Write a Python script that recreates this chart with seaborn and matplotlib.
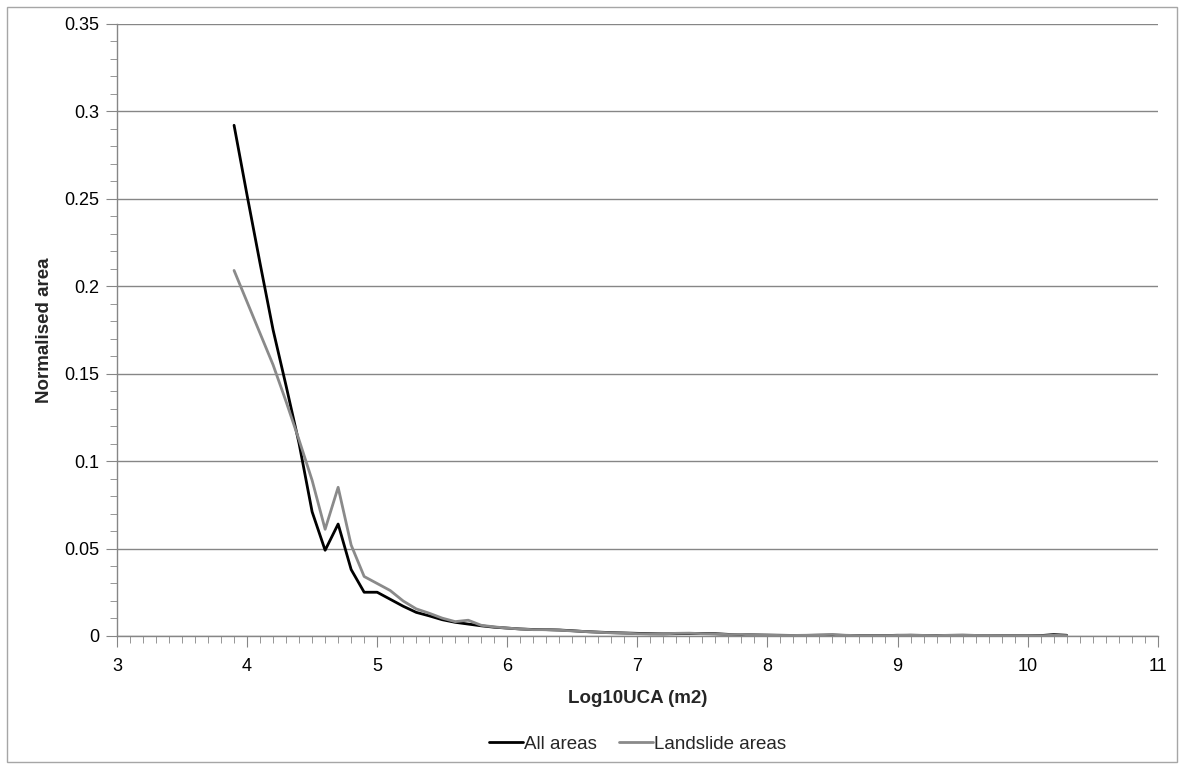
import seaborn as sns
import matplotlib.pyplot as plt
import pandas as pd
from matplotlib.ticker import MultipleLocator, FuncFormatter
from matplotlib.patches import Rectangle

# values
log_uca = [round(3.9 + 0.1 * i, 1) for i in range(65)]

all_areas = [0.292, 0.252, 0.213, 0.175, 0.143, 0.110, 0.071, 0.049, 0.064, 0.038,
             0.025, 0.025, 0.021, 0.017, 0.0135, 0.0115, 0.0093, 0.0078, 0.0068, 0.0058,
             0.0050, 0.0045, 0.0040, 0.0037, 0.0036, 0.0034, 0.0030, 0.0025, 0.0022, 0.0019,
             0.0017, 0.0015, 0.0013, 0.0012, 0.0013, 0.0014, 0.0014, 0.0013, 0.0009, 0.0007,
             0.0006, 0.0005, 0.0004, 0.0003, 0.0003, 0.0003, 0.0004, 0.0003, 0.0002, 0.0002,
             0.0002, 0.0004, 0.0003, 0.0002, 0.0002, 0.0002, 0.0003, 0.0002, 0.0001, 0.0001,
             0.0001, 0.0001, 0.0002, 0.0008, 0.0004]

landslide_areas = [0.209, 0.191, 0.173, 0.155, 0.134, 0.112, 0.089, 0.061, 0.085, 0.052,
                   0.034, 0.030, 0.026, 0.020, 0.0155, 0.013, 0.0102, 0.0082, 0.0090, 0.0061,
                   0.0052, 0.0045, 0.0040, 0.0036, 0.0036, 0.0033, 0.0029, 0.0025, 0.0021, 0.0018,
                   0.0016, 0.0013, 0.0011, 0.0012, 0.0015, 0.0016, 0.0013, 0.0011, 0.0008, 0.0009,
                   0.0005, 0.0004, 0.0003, 0.0003, 0.0004, 0.0007, 0.0009, 0.0004, 0.0002, 0.0002,
                   0.0002, 0.0003, 0.0006, 0.0003, 0.0002, 0.0004, 0.0006, 0.0003, 0.0002, 0.0001,
                   0.0001, 0.0001, 0.0001, 0.0004, 0.0002]

df = pd.concat([
    pd.DataFrame({'x': log_uca, 'y': all_areas, 'series': 'All areas'}),
    pd.DataFrame({'x': log_uca, 'y': landslide_areas, 'series': 'Landslide areas'}),
])

sns.set_style('white')
plt.rcParams['font.family'] = ['Liberation Sans', 'DejaVu Sans']

fig = plt.figure(figsize=(11.84, 7.69), dpi=100)
ax = fig.add_axes([0.0988, 0.173, 0.879, 0.796])

# outer chart border
fig.patches.append(Rectangle((0.006, 0.009), 0.988, 0.982, transform=fig.transFigure,
                             fill=False, edgecolor='#a6a6a6', linewidth=1))

sns.lineplot(data=df, x='x', y='y', hue='series',
             palette={'All areas': '#000000', 'Landslide areas': '#8a8a8a'},
             linewidth=2.0, ax=ax)

grid_col = '#868686'
ax.set_xlim(3, 11)
ax.set_ylim(0, 0.35)
ax.xaxis.set_major_locator(MultipleLocator(1))
ax.xaxis.set_minor_locator(MultipleLocator(0.1))
ax.yaxis.set_major_locator(MultipleLocator(0.05))
ax.yaxis.set_minor_locator(MultipleLocator(0.01))
ax.yaxis.set_major_formatter(FuncFormatter(lambda v, p: f'{v:.2f}'.rstrip('0').rstrip('.') if v else '0'))
ax.grid(axis='y', which='major', color=grid_col, linewidth=1)
ax.set_axisbelow(True)

for s in ['top', 'right']:
    ax.spines[s].set_visible(False)
for s in ['left', 'bottom']:
    ax.spines[s].set_color(grid_col)
    ax.spines[s].set_linewidth(1)

ax.tick_params(axis='both', which='major', direction='out', length=8, color=grid_col,
               labelsize=13, labelcolor='black', pad=5)
ax.tick_params(axis='x', which='major', pad=8)
ax.tick_params(axis='both', which='minor', direction='out', length=5, color=grid_col)
ax.tick_params(axis='x', which='both', bottom=True)
ax.tick_params(axis='y', which='both', left=True)

ax.set_xlabel('Log10UCA (m2)', fontsize=13.5, fontweight='bold', labelpad=11)
ax.set_ylabel('Normalised area', fontsize=13.5, fontweight='bold', labelpad=8)

sns.move_legend(ax, 'lower center', bbox_to_anchor=(0.5, -0.218), ncol=2, frameon=False,
                title=None, fontsize=13.5, handlelength=1.8, handletextpad=0.05, columnspacing=1.2)

fig.savefig('out.png', dpi=100)
